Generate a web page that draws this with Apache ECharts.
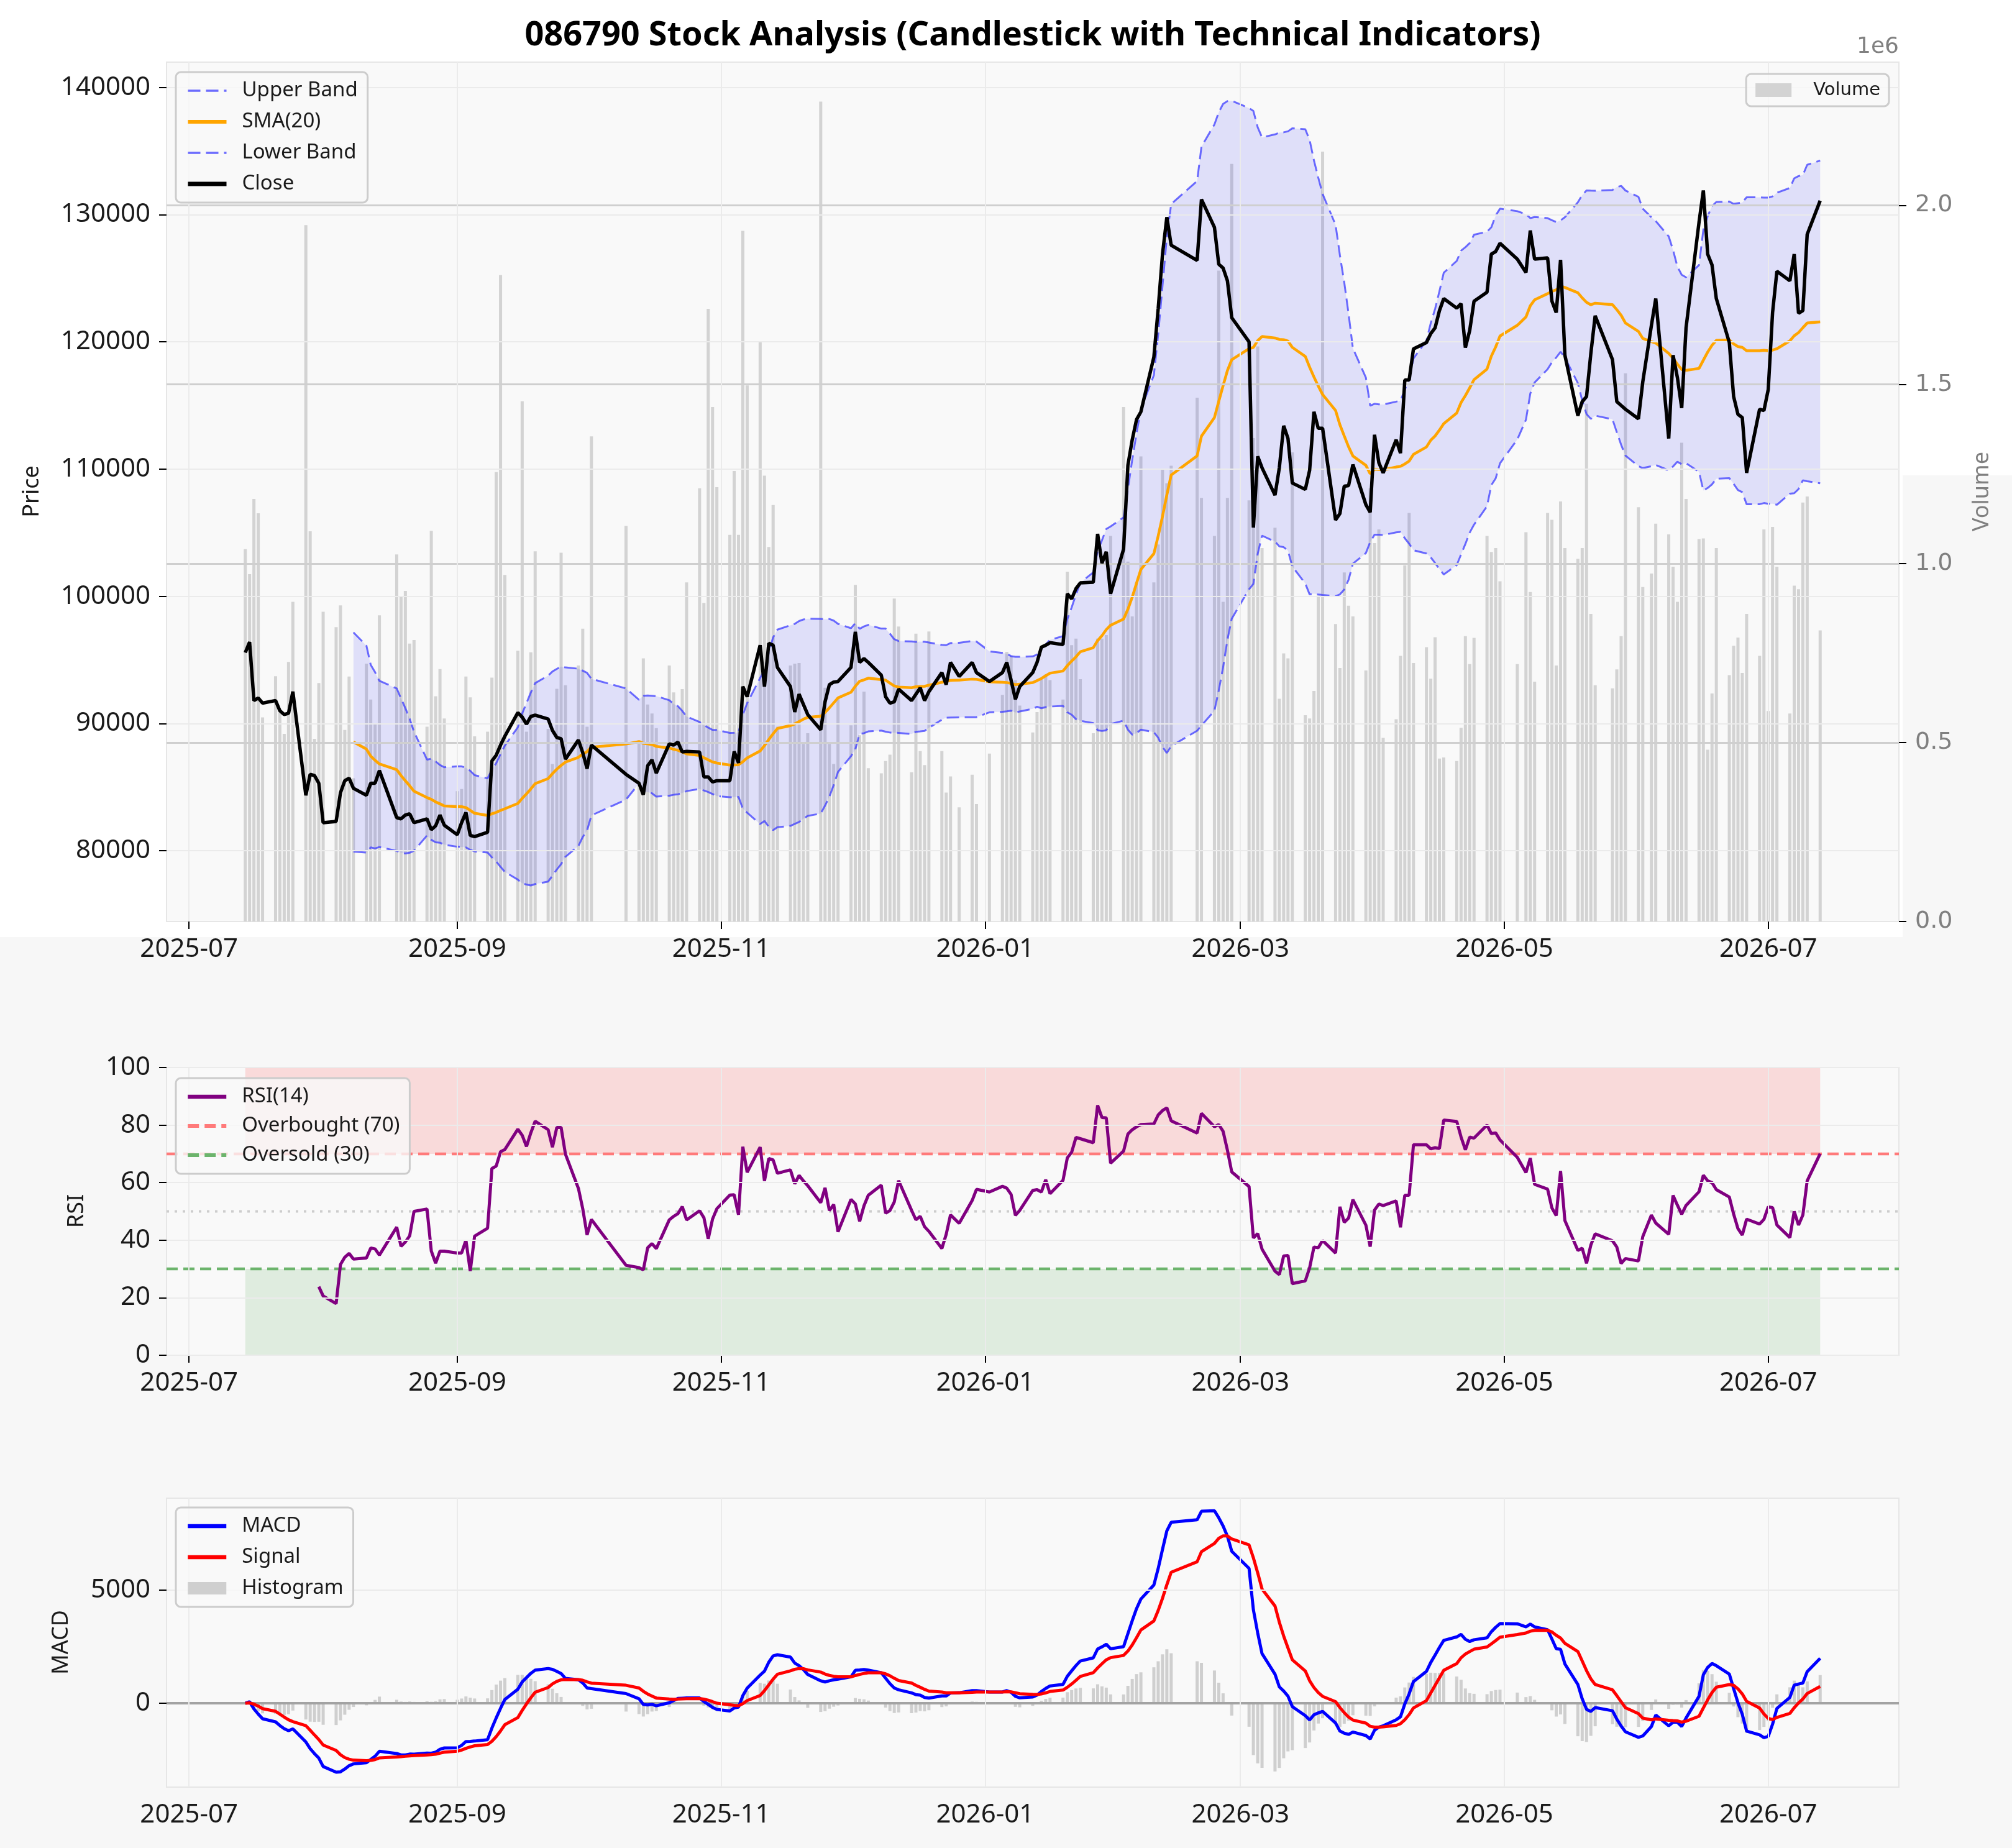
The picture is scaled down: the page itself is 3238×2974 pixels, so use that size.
<!DOCTYPE html>
<html>
<head>
<meta charset="utf-8">
<script src="https://cdn.jsdelivr.net/npm/echarts@6/dist/echarts.min.js"></script>
<style>
  html, body { margin: 0; padding: 0; background: #f7f7f7; }
  #chart { width: 3238px; height: 2974px; }
</style>
</head>
<body>
<div id="chart"></div>
<script>
// trading days (KRX calendar, holidays skipped)
const dates = [
  '2025-07-14','2025-07-15','2025-07-16','2025-07-17','2025-07-18','2025-07-21','2025-07-22','2025-07-23','2025-07-24','2025-07-25','2025-07-28','2025-07-29','2025-07-30','2025-07-31',
  '2025-08-01','2025-08-04','2025-08-05','2025-08-06','2025-08-07','2025-08-08','2025-08-11','2025-08-12','2025-08-13','2025-08-14','2025-08-18','2025-08-19','2025-08-20','2025-08-21','2025-08-22','2025-08-25','2025-08-26','2025-08-27','2025-08-28','2025-08-29',
  '2025-09-01','2025-09-02','2025-09-03','2025-09-04','2025-09-05','2025-09-08','2025-09-09','2025-09-10','2025-09-11','2025-09-12','2025-09-15','2025-09-16','2025-09-17','2025-09-18','2025-09-19','2025-09-22','2025-09-23','2025-09-24','2025-09-25','2025-09-26','2025-09-29','2025-09-30',
  '2025-10-01','2025-10-02','2025-10-10','2025-10-13','2025-10-14','2025-10-15','2025-10-16','2025-10-17','2025-10-20','2025-10-21','2025-10-22','2025-10-23','2025-10-24','2025-10-27','2025-10-28','2025-10-29','2025-10-30','2025-10-31',
  '2025-11-03','2025-11-04','2025-11-05','2025-11-06','2025-11-07','2025-11-10','2025-11-11','2025-11-12','2025-11-13','2025-11-14','2025-11-17','2025-11-18','2025-11-19','2025-11-20','2025-11-21','2025-11-24','2025-11-25','2025-11-26','2025-11-27','2025-11-28',
  '2025-12-01','2025-12-02','2025-12-03','2025-12-04','2025-12-05','2025-12-08','2025-12-09','2025-12-10','2025-12-11','2025-12-12','2025-12-15','2025-12-16','2025-12-17','2025-12-18','2025-12-19','2025-12-22','2025-12-23','2025-12-24','2025-12-26','2025-12-29','2025-12-30',
  '2026-01-02','2026-01-05','2026-01-06','2026-01-07','2026-01-08','2026-01-09','2026-01-12','2026-01-13','2026-01-14','2026-01-15','2026-01-16','2026-01-19','2026-01-20','2026-01-21','2026-01-22','2026-01-23','2026-01-26','2026-01-27','2026-01-28','2026-01-29','2026-01-30',
  '2026-02-02','2026-02-03','2026-02-04','2026-02-05','2026-02-06','2026-02-09','2026-02-10','2026-02-11','2026-02-12','2026-02-13','2026-02-19','2026-02-20','2026-02-23','2026-02-24','2026-02-25','2026-02-26','2026-02-27',
  '2026-03-03','2026-03-04','2026-03-05','2026-03-06','2026-03-09','2026-03-10','2026-03-11','2026-03-12','2026-03-13','2026-03-16','2026-03-17','2026-03-18','2026-03-19','2026-03-20','2026-03-23','2026-03-24','2026-03-25','2026-03-26','2026-03-27','2026-03-30','2026-03-31',
  '2026-04-01','2026-04-02','2026-04-03','2026-04-06','2026-04-07','2026-04-08','2026-04-09','2026-04-10','2026-04-13','2026-04-14','2026-04-15','2026-04-16','2026-04-17','2026-04-20','2026-04-21','2026-04-22','2026-04-23','2026-04-24','2026-04-27','2026-04-28','2026-04-29','2026-04-30',
  '2026-05-04','2026-05-06','2026-05-07','2026-05-08','2026-05-11','2026-05-12','2026-05-13','2026-05-14','2026-05-15','2026-05-18','2026-05-19','2026-05-20','2026-05-21','2026-05-22','2026-05-26','2026-05-27','2026-05-28','2026-05-29',
  '2026-06-01','2026-06-02','2026-06-04','2026-06-05','2026-06-08','2026-06-09','2026-06-10','2026-06-11','2026-06-12','2026-06-15','2026-06-16','2026-06-17','2026-06-18','2026-06-19','2026-06-22','2026-06-23','2026-06-24','2026-06-25','2026-06-26','2026-06-29','2026-06-30',
  '2026-07-01','2026-07-02','2026-07-03','2026-07-06','2026-07-07','2026-07-08','2026-07-09','2026-07-10','2026-07-13'
];

const close = [
  95570, 96400, 91800, 92000, 91600, 91800, 91000, 90700, 90800, 92500, 84350, 86000, 85900, 85300,
  82200, 82300, 84550, 85500, 85700, 84900, 84350, 85300, 85300, 86300, 82600, 82500, 82800, 82900, 82200, 82500, 81650, 81950, 82800, 82000,
  81250, 82200, 83000, 81200, 81100, 81450, 87050, 87500, 88300, 89000, 90850, 90500, 89950, 90550, 90650, 90350, 89450, 88900, 88800, 87200, 88700, 87700,
  86450, 88300, 86000, 85300, 84400, 86670, 87140, 86100, 88400, 88300, 88530, 87760, 87800, 87760, 85800, 85800, 85400, 85500,
  85500, 87800, 86900, 92900, 92100, 96150, 92900, 96300, 96150, 94400, 92900, 90900, 92300, 91500, 90700, 89500, 91700, 93050, 93250, 93300,
  94400, 97200, 94800, 95100, 94800, 93800, 92100, 91600, 91700, 92700, 91800, 92300, 92800, 91800, 92500, 94000, 93050, 94800, 93700, 94800, 94000,
  93300, 94000, 94800, 93400, 91900, 92900, 94000, 94800, 96000, 96150, 96350, 96200, 100200, 99800, 100600, 101050, 101100, 104900, 102600, 103500, 100200,
  103700, 110300, 112300, 113900, 114500, 118800, 122600, 126900, 129800, 127600, 126400, 131200, 129000, 126100, 125800, 124800, 121900,
  120000, 105400, 111000, 110100, 107950, 110100, 113400, 112400, 108900, 108400, 109900, 114500, 113200, 113200, 106000, 106500, 108650, 108700, 110350, 107200, 106600,
  112700, 110500, 109700, 112300, 111250, 117000, 117000, 119450, 119950, 120650, 121100, 122450, 123400, 122650, 123000, 119550, 120900, 123200, 123900, 126900, 127100, 127750,
  126500, 125450, 128750, 126500, 126600, 123200, 122300, 126450, 118950, 114200, 115300, 115700, 119100, 122050, 118600, 115300, 115000, 114700,
  113950, 116850, 121300, 123400, 112400, 118950, 117200, 114800, 121100, 129400, 131900, 126900, 126050, 123400, 119950, 115700, 114300, 114050, 109700, 114700, 114600,
  116250, 122300, 125550, 124800, 126900, 122250, 122450, 128450, 131100
];

// volume in millions of shares (axis shows 1e6)
const volume = [
  1.04, 0.97, 1.18, 1.14, 0.57, 0.685, 0.59, 0.524, 0.725, 0.893, 1.945, 1.09, 0.51, 0.666,
  0.865, 0.822, 0.883, 0.535, 0.684, 0.40, 0.72, 0.62, 0.55, 0.855, 1.025, 0.909, 0.923, 0.776, 0.786, 0.544, 1.091, 0.629, 0.705, 0.567,
  0.364, 0.37, 0.684, 0.626, 0.517, 0.53, 0.681, 1.255, 1.805, 0.968, 0.756, 1.453, 0.53, 0.752, 1.034, 0.538, 0.44, 0.65, 1.03, 0.66, 0.715, 0.818,
  0.544, 1.355, 1.105, 0.506, 0.735, 0.606, 0.581, 0.54, 0.715, 0.64, 0.60, 0.649, 0.947, 1.21, 0.89, 1.711, 1.437, 1.213,
  1.08, 1.258, 1.08, 1.929, 1.497, 1.62, 1.245, 1.046, 1.163, 0.544, 0.715, 0.72, 0.722, 0.496, 0.526, 2.29, 0.653, 0.496, 0.44, 0.626,
  0.548, 0.94, 0.52, 0.642, 0.428, 0.414, 0.448, 0.466, 0.902, 0.824, 0.417, 0.804, 0.476, 0.437, 0.81, 0.476, 0.36, 0.405, 0.319, 0.41, 0.328,
  0.469, 0.633, 0.753, 0.742, 0.674, 0.603, 0.528, 0.585, 0.681, 0.69, 0.674, 0.62, 0.977, 0.772, 0.79, 0.677, 0.526, 0.79, 0.79, 0.80, 1.077,
  1.437, 1.005, 0.852, 0.947, 1.299, 0.947, 1.053, 1.262, 1.224, 1.273, 1.463, 1.183, 1.077, 1.818, 0.893, 1.183, 2.116,
  1.176, 1.35, 1.606, 1.043, 1.1, 0.622, 0.749, 0.735, 1.31, 0.576, 0.567, 0.644, 0.91, 2.15, 0.831, 0.708, 0.975, 0.882, 0.852, 0.701, 1.21,
  1.057, 1.095, 0.513, 0.565, 0.742, 0.995, 1.141, 0.722, 0.766, 0.678, 0.794, 0.455, 0.458, 0.448, 0.541, 0.797, 0.719, 0.792, 1.077, 1.032, 1.043, 0.95,
  0.719, 1.087, 0.92, 0.67, 1.141, 1.122, 0.715, 1.173, 1.043, 1.013, 1.043, 1.446, 0.859, 0.66, 0.651, 0.704, 0.797, 1.531,
  1.157, 0.934, 0.972, 1.111, 1.081, 0.991, 0.893, 1.337, 1.18, 1.068, 1.07, 0.48, 0.637, 1.043, 0.688, 0.77, 0.793, 0.694, 0.859, 0.742, 1.095,
  0.588, 1.102, 0.991, 0.581, 0.938, 0.928, 1.17, 1.187, 0.813
];

const xTickLabels = ['2025-07-01', '2025-09-01', '2025-11-01', '2026-01-01', '2026-03-01', '2026-05-01', '2026-07-01'];
const priceTicks = [80000, 90000, 100000, 110000, 120000, 130000, 140000];
const volumeTicks = [0, 0.5, 1.0, 1.5, 2.0];
const rsiTicks = [0, 20, 40, 60, 80, 100];
const macdTicks = [0, 5000];

const toTs = (s) => new Date(s + 'T00:00:00').getTime();
const ts = dates.map(toTs);
const xTicks = xTickLabels.map(toTs);
const n = close.length;

// indicators, computed from the closes the same way the original did
function rollingMean(arr, w) {
    return arr.map((_, i) => {
        if (i < w - 1) return null;
        let s = 0;
        for (let k = i - w + 1; k <= i; k++) s += arr[k];
        return s / w;
    });
}
function rollingStd(arr, w) {
    const m = rollingMean(arr, w);
    return arr.map((_, i) => {
        if (i < w - 1) return null;
        let s = 0;
        for (let k = i - w + 1; k <= i; k++) s += (arr[k] - m[i]) ** 2;
        return Math.sqrt(s / (w - 1));
    });
}
function ema(arr, span) {
    const a = 2 / (span + 1);
    const out = [];
    arr.forEach((v, i) => out.push(i === 0 ? v : a * v + (1 - a) * out[i - 1]));
    return out;
}

const sma20 = rollingMean(close, 20);
const std20 = rollingStd(close, 20);
const upper = sma20.map((m, i) => (m === null ? null : m + 2 * std20[i]));
const lower = sma20.map((m, i) => (m === null ? null : m - 2 * std20[i]));

const gains = close.map((c, i) => (i === 0 ? 0 : Math.max(c - close[i - 1], 0)));
const losses = close.map((c, i) => (i === 0 ? 0 : Math.max(close[i - 1] - c, 0)));
const avgGain = rollingMean(gains, 14);
const avgLoss = rollingMean(losses, 14);
const rsi = avgGain.map((g, i) => (g === null ? null : 100 - 100 / (1 + g / avgLoss[i])));

const ema12 = ema(close, 12);
const ema26 = ema(close, 26);
const macd = ema12.map((v, i) => v - ema26[i]);
const signal = ema(macd, 9);
const hist = macd.map((v, i) => v - signal[i]);

const span = ts[n - 1] - ts[0];
const xMin = ts[0] - 0.05 * span;
const xMax = ts[n - 1] + 0.05 * span;

const pair = (arr) => arr.map((v, i) => [ts[i], v === null ? '-' : v]);

const FONT = 'Noto Sans';
const gridColor = '#ebebeb';
const plain = (v) => String(v);

function xAxis(gridIndex) {
    return {
        type: 'value',
        gridIndex,
        min: xMin,
        max: xMax,
        axisLine: { show: false },
        splitLine: { show: false },
        axisTick: { customValues: xTicks, length: 12, lineStyle: { color: '#000', width: 2 } },
        axisLabel: {
            customValues: xTicks,
            margin: 24,
            fontSize: 42,
            fontFamily: FONT,
            color: '#1a1a1a',
            formatter: (v) => {
                const d = new Date(v);
                return d.getFullYear() + '-' + String(d.getMonth() + 1).padStart(2, '0');
            },
        },
    };
}

function gridLines(xAxisIndex, yAxisIndex, yValues, color, z) {
    return {
        type: 'line',
        xAxisIndex,
        yAxisIndex,
        data: [[ts[0], yValues[0]]],
        symbol: 'none',
        lineStyle: { opacity: 0 },
        silent: true,
        z,
        markLine: {
            silent: true,
            symbol: ['none', 'none'],
            label: { show: false },
            lineStyle: { color, width: 2, type: 'solid' },
            data: yValues.map((v) => ({ yAxis: v })).concat(xTicks.map((t) => ({ xAxis: t, lineStyle: { color: gridColor } }))),
        },
    };
}

const legendBase = {
    orient: 'vertical',
    left: 283,
    z: 20,
    itemWidth: 62,
    itemHeight: 20,
    itemGap: 14,
    selectedMode: false,
    backgroundColor: 'rgba(249,249,249,0.8)',
    borderColor: '#cccccc',
    borderWidth: 3,
    borderRadius: 8,
    padding: [12, 16, 12, 16],
    itemStyle: { opacity: 0 },
    textStyle: { fontFamily: FONT, fontSize: 33, color: '#1a1a1a', lineHeight: 36, padding: [0, 0, 0, 20] },
};
const legendLine = (name, width) => ({ name, lineStyle: { width } });

const bandColor = 'rgba(60,60,255,0.75)';

const chart = echarts.init(document.getElementById('chart'));
chart.setOption({
    animation: false,
    backgroundColor: '#f7f7f7',
    graphic: [
        {
            type: 'polygon',
            z: -100,
            silent: true,
            shape: { points: [[0, 0], [3238, 0], [3238, 765], [3062, 765], [3062, 1508], [0, 1508]] },
            style: { fill: '#ffffff' },
        },
        {
            type: 'text', x: 1662, y: 58, silent: true,
            style: { text: '086790 Stock Analysis (Candlestick with Technical Indicators)', font: 'bold 54px "Noto Sans"', fill: '#000', align: 'center', verticalAlign: 'middle' },
        },
        {
            type: 'text', x: 52, y: 791, rotation: Math.PI / 2, silent: true,
            style: { text: 'Price', font: '36px "Noto Sans"', fill: '#1a1a1a', align: 'center', verticalAlign: 'middle' },
        },
        {
            type: 'text', x: 3190, y: 791, rotation: Math.PI / 2, silent: true,
            style: { text: 'Volume', font: '36px "Noto Sans"', fill: '#808080', align: 'center', verticalAlign: 'middle' },
        },
        {
            type: 'text', x: 3056, y: 76, silent: true,
            style: { text: '1e6', font: '36px "DejaVu Sans"', fill: '#808080', align: 'right', verticalAlign: 'middle' },
        },
        {
            type: 'text', x: 124, y: 1949, rotation: Math.PI / 2, silent: true,
            style: { text: 'RSI', font: '36px "Noto Sans"', fill: '#1a1a1a', align: 'center', verticalAlign: 'middle' },
        },
        {
            type: 'text', x: 99, y: 2643, rotation: Math.PI / 2, silent: true,
            style: { text: 'MACD', font: '36px "Noto Sans"', fill: '#1a1a1a', align: 'center', verticalAlign: 'middle' },
        },
    ],
    legend: [
        Object.assign({}, legendBase, {
            top: 116,
            data: [legendLine('Upper Band', 3.5), legendLine('SMA(20)', 6), legendLine('Lower Band', 3.5), legendLine('Close', 7)],
        }),
        Object.assign({}, legendBase, {
            left: null, right: 198, top: 119, itemWidth: 58, itemHeight: 22, padding: [8, 14, 8, 15],
            itemStyle: { opacity: 1 },
            data: [{ name: 'Volume', icon: 'rect' }],
            textStyle: Object.assign({}, legendBase.textStyle, { fontFamily: 'DejaVu Sans', fontSize: 29, padding: [0, 0, 0, 30] }),
        }),
        Object.assign({}, legendBase, {
            top: 1735, itemGap: 11,
            data: [legendLine('RSI(14)', 6.5), legendLine('Overbought (70)', 6), legendLine('Oversold (30)', 6)],
        }),
        Object.assign({}, legendBase, {
            top: 2426,
            data: [legendLine('MACD', 6.5), legendLine('Signal', 6.5), { name: 'Histogram', icon: 'rect', itemStyle: { opacity: 1 } }],
        }),
    ],
    grid: [
        { left: 268, right: 182, top: 100, height: 1383, show: true, backgroundColor: '#f9f9f9', borderColor: '#e6e6e6', borderWidth: 2 },
        { left: 268, right: 182, top: 1718, height: 463, show: true, backgroundColor: '#f9f9f9', borderColor: '#e6e6e6', borderWidth: 2 },
        { left: 268, right: 182, top: 2411, height: 465, show: true, backgroundColor: '#f9f9f9', borderColor: '#e6e6e6', borderWidth: 2 },
    ],
    xAxis: [xAxis(0), xAxis(1), xAxis(2)],
    yAxis: [
        {
            type: 'value', gridIndex: 0, position: 'left', min: 74430, max: 141990,
            axisLine: { show: false }, splitLine: { show: false },
            axisTick: { customValues: priceTicks, length: 12, lineStyle: { color: '#000', width: 2 } },
            axisLabel: { customValues: priceTicks, margin: 26, fontSize: 42, fontFamily: FONT, color: '#1a1a1a', formatter: plain },
        },
        {
            type: 'value', gridIndex: 0, position: 'right', min: 0, max: 2.4,
            axisLine: { show: false }, splitLine: { show: false },
            axisTick: { customValues: volumeTicks, length: 12, lineStyle: { color: '#000', width: 2 } },
            axisLabel: { customValues: volumeTicks, margin: 26, fontSize: 38, fontFamily: 'DejaVu Sans', color: '#808080', formatter: (v) => v.toFixed(1) },
        },
        {
            type: 'value', gridIndex: 1, min: 0, max: 100, interval: 20,
            axisLine: { show: false }, splitLine: { show: false },
            axisTick: { length: 12, lineStyle: { color: '#000', width: 2 } },
            axisLabel: { margin: 26, fontSize: 42, fontFamily: FONT, color: '#1a1a1a', formatter: plain },
        },
        {
            type: 'value', gridIndex: 2, min: -3700, max: 9050,
            axisLine: { show: false }, splitLine: { show: false },
            axisTick: { customValues: macdTicks, length: 12, lineStyle: { color: '#000', width: 2 } },
            axisLabel: { customValues: macdTicks, margin: 26, fontSize: 42, fontFamily: FONT, color: '#1a1a1a', formatter: plain },
        },
    ],
    series: [
        // price panel
        {
            name: 'Volume', type: 'bar', xAxisIndex: 0, yAxisIndex: 1, z: 1,
            data: pair(volume), barWidth: 5, itemStyle: { color: '#d3d3d3' }, silent: true,
        },
        {
            type: 'line', xAxisIndex: 0, yAxisIndex: 1, data: [[ts[0], 0]], symbol: 'none', lineStyle: { opacity: 0 }, silent: true, z: 2,
            markLine: {
                silent: true, symbol: ['none', 'none'], label: { show: false },
                lineStyle: { color: '#cfcfcf', width: 3, type: 'solid' },
                data: volumeTicks.slice(1).map((v) => ({ yAxis: v })),
            },
        },
        gridLines(0, 0, priceTicks, gridColor, 2),
        {
            type: 'custom', xAxisIndex: 0, yAxisIndex: 0, z: 3, silent: true,
            data: [[ts[19], upper[19]]],
            renderItem: (params, api) => {
                const pts = [];
                for (let i = 19; i < n; i++) pts.push(api.coord([ts[i], upper[i]]));
                for (let i = n - 1; i >= 19; i--) pts.push(api.coord([ts[i], lower[i]]));
                return { type: 'polygon', shape: { points: pts }, style: { fill: 'rgba(0,0,255,0.1)' } };
            },
        },
        {
            name: 'Upper Band', type: 'line', xAxisIndex: 0, yAxisIndex: 0, z: 4, symbol: 'none',
            data: pair(upper), lineStyle: { color: bandColor, width: 3, type: [20, 9] }, itemStyle: { color: bandColor },
        },
        {
            name: 'SMA(20)', type: 'line', xAxisIndex: 0, yAxisIndex: 0, z: 4, symbol: 'none',
            data: pair(sma20), lineStyle: { color: '#ffa500', width: 4.5 }, itemStyle: { color: '#ffa500' },
        },
        {
            name: 'Lower Band', type: 'line', xAxisIndex: 0, yAxisIndex: 0, z: 4, symbol: 'none',
            data: pair(lower), lineStyle: { color: bandColor, width: 3, type: [20, 9] }, itemStyle: { color: bandColor },
        },
        {
            name: 'Close', type: 'line', xAxisIndex: 0, yAxisIndex: 0, z: 5, symbol: 'none',
            data: pair(close), lineStyle: { color: '#000000', width: 5.5 }, itemStyle: { color: '#000000' },
        },

        // RSI panel
        Object.assign(gridLines(1, 2, rsiTicks, gridColor, 1), {
            markArea: {
                silent: true,
                data: [
                    [{ xAxis: ts[0], yAxis: 70, itemStyle: { color: 'rgba(255,0,0,0.12)' } }, { xAxis: ts[n - 1], yAxis: 100 }],
                    [{ xAxis: ts[0], yAxis: 0, itemStyle: { color: 'rgba(0,128,0,0.1)' } }, { xAxis: ts[n - 1], yAxis: 30 }],
                ],
            },
        }),
        {
            type: 'line', xAxisIndex: 1, yAxisIndex: 2, z: 2, symbol: 'none', silent: true,
            data: [[xMin, 50], [xMax, 50]], lineStyle: { color: '#cdcdcd', width: 4, type: [4, 9] },
        },
        {
            name: 'RSI(14)', type: 'line', xAxisIndex: 1, yAxisIndex: 2, z: 4, symbol: 'none',
            data: pair(rsi), lineStyle: { color: '#800080', width: 5 }, itemStyle: { color: '#800080' },
        },
        {
            name: 'Overbought (70)', type: 'line', xAxisIndex: 1, yAxisIndex: 2, z: 3, symbol: 'none',
            data: [[xMin, 70], [xMax, 70]], lineStyle: { color: '#ff7a7a', width: 4.5, type: [18, 9] }, itemStyle: { color: '#ff7a7a' },
        },
        {
            name: 'Oversold (30)', type: 'line', xAxisIndex: 1, yAxisIndex: 2, z: 3, symbol: 'none',
            data: [[xMin, 30], [xMax, 30]], lineStyle: { color: '#6cb46c', width: 4.5, type: [18, 9] }, itemStyle: { color: '#6cb46c' },
        },

        // MACD panel
        gridLines(2, 3, [5000], gridColor, 1),
        {
            name: 'Histogram', type: 'bar', xAxisIndex: 2, yAxisIndex: 3, z: 2, barWidth: 5,
            data: pair(hist), itemStyle: { color: '#cfcfcf' }, silent: true,
        },
        {
            type: 'line', xAxisIndex: 2, yAxisIndex: 3, z: 3, symbol: 'none', silent: true,
            data: [[xMin, 0], [xMax, 0]], lineStyle: { color: '#a3a3a3', width: 4 },
        },
        {
            name: 'MACD', type: 'line', xAxisIndex: 2, yAxisIndex: 3, z: 4, symbol: 'none',
            data: pair(macd), lineStyle: { color: '#0000ff', width: 5 }, itemStyle: { color: '#0000ff' },
        },
        {
            name: 'Signal', type: 'line', xAxisIndex: 2, yAxisIndex: 3, z: 4, symbol: 'none',
            data: pair(signal), lineStyle: { color: '#ff0000', width: 5 }, itemStyle: { color: '#ff0000' },
        },
    ],
});
</script>
</body>
</html>
